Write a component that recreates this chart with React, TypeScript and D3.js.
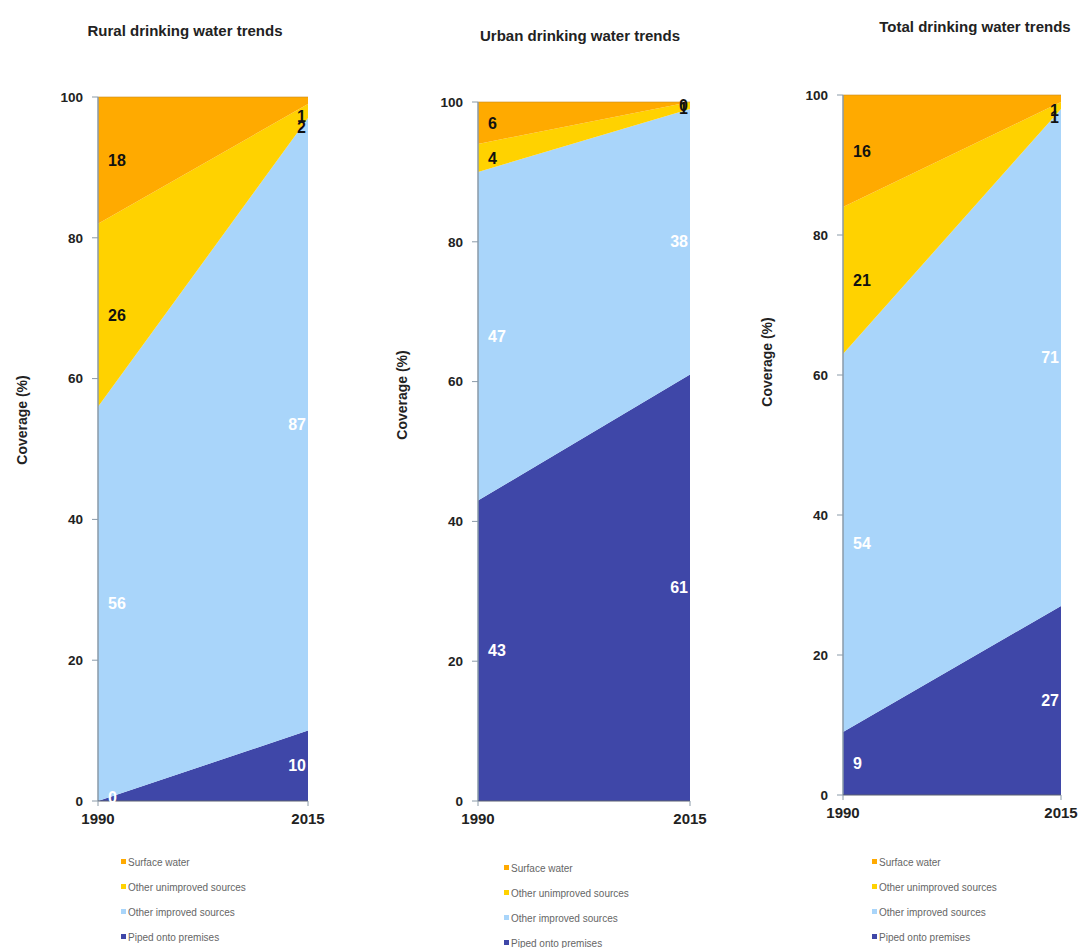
import React from "react";
import * as d3 from "d3";

const years = ["1990", "2015"];
const categories = ["Piped onto premises", "Other improved sources", "Other unimproved sources", "Surface water"];
const legendOrder = ["Surface water", "Other unimproved sources", "Other improved sources", "Piped onto premises"];
const colors: Record<string, string> = {
  "Surface water": "#FFAA00",
  "Other unimproved sources": "#FFD200",
  "Other improved sources": "#A9D5FA",
  "Piped onto premises": "#3F47A8",
};
const labelColors: Record<string, string> = {
  "Surface water": "#111",
  "Other unimproved sources": "#111",
  "Other improved sources": "#fff",
  "Piped onto premises": "#fff",
};

// values per category: [1990, 2015]
const ruralPiped = [0, 10];
const ruralImproved = [56, 87];
const ruralUnimproved = [26, 2];
const ruralSurface = [18, 1];

const urbanPiped = [43, 61];
const urbanImproved = [47, 38];
const urbanUnimproved = [4, 1];
const urbanSurface = [6, 0];

const totalPiped = [9, 27];
const totalImproved = [54, 71];
const totalUnimproved = [21, 1];
const totalSurface = [16, 1];

const yTicks = [0, 20, 40, 60, 80, 100];

const titles = ["Rural drinking water trends", "Urban drinking water trends", "Total drinking water trends"];

const panels = [
  { title: titles[0], series: [ruralPiped, ruralImproved, ruralUnimproved, ruralSurface],
    left: 98, right: 308, top: 97, bottom: 801, titleX: 185, titleY: 36, yTitleY: 420,
    legX: 121, legY: 862, smallShift: 16 },
  { title: titles[1], series: [urbanPiped, urbanImproved, urbanUnimproved, urbanSurface],
    left: 478, right: 690, top: 102, bottom: 801, titleX: 580, titleY: 41, yTitleY: 395,
    legX: 504, legY: 868, smallShift: 3 },
  { title: titles[2], series: [totalPiped, totalImproved, totalUnimproved, totalSurface],
    left: 843, right: 1061, top: 95, bottom: 795, titleX: 975, titleY: 32, yTitleY: 362,
    legX: 872, legY: 862, smallShift: 12 },
];

const FONT = "'Liberation Sans', Arial, Helvetica, sans-serif";

function Panel({ p }: { p: typeof panels[number] }) {
  const x = d3.scalePoint<string>().domain(years).range([p.left, p.right]);
  const y = d3.scaleLinear().domain([0, 100]).range([p.bottom, p.top]);
  const rows = years.map((yr, i) => {
    const o: any = { year: yr };
    categories.forEach((c, k) => (o[c] = p.series[k][i]));
    return o;
  });
  const stacked = d3.stack<any>().keys(categories)(rows);
  const area = d3
    .area<any>()
    .x((d) => x(d.data.year) as number)
    .y0((d) => y(d[0]))
    .y1((d) => y(d[1]));

  return (
    <g>
      <text x={p.titleX} y={p.titleY} textAnchor="middle" fontFamily={FONT} fontWeight="bold" fontSize={15} fill="#222">
        {p.title}
      </text>
      {stacked.map((s) => (
        <path key={s.key} d={area(s as any) || ""} fill={colors[s.key]} />
      ))}
      <line x1={p.left} x2={p.right} y1={p.top} y2={p.top} stroke="#c98a20" strokeWidth={1} opacity={0.6} />
      {/* y axis */}
      <line x1={p.left} x2={p.left} y1={p.top} y2={p.bottom} stroke="#8a9aa8" strokeWidth={1.5} />
      {yTicks.map((t) => (
        <g key={t}>
          <line x1={p.left - 6} x2={p.left} y1={y(t)} y2={y(t)} stroke="#8a9aa8" strokeWidth={1} />
          <text x={p.left - 15} y={y(t)} dy="0.35em" textAnchor="end" fontFamily={FONT} fontWeight="bold" fontSize={13.5} fill="#222">
            {t}
          </text>
        </g>
      ))}
      {/* x axis */}
      <line x1={p.left} x2={p.right} y1={p.bottom} y2={p.bottom} stroke="#5a6070" strokeWidth={1} />
      {years.map((yr) => (
        <g key={yr}>
          <line x1={x(yr)} x2={x(yr)} y1={p.bottom} y2={p.bottom + 5} stroke="#8a9aa8" />
          <text x={x(yr)} y={p.bottom + 23} textAnchor="middle" fontFamily={FONT} fontWeight="bold" fontSize={15} fill="#222">
            {yr}
          </text>
        </g>
      ))}
      <text
        transform={`translate(${p.left - 76},${p.yTitleY}) rotate(-90)`}
        textAnchor="middle"
        dy="0.35em"
        fontFamily={FONT}
        fontWeight="bold"
        fontSize={14}
        fill="#222"
      >
        Coverage (%)
      </text>
      {/* data labels */}
      {stacked.map((s) =>
        s.map((d: any, i: number) => {
          const v = d[1] - d[0];
          const nearTop = v < 3 && d[1] >= 98;
          const mid = y((d[0] + d[1]) / 2) + (nearTop ? p.smallShift : 0);
          const isLeft = i === 0;
          return (
            <text
              key={s.key + i}
              x={isLeft ? p.left + 10 : p.right - 2}
              y={Math.min(mid, p.bottom - 4)}
              dy="0.35em"
              textAnchor={isLeft ? "start" : "end"}
              fontFamily={FONT}
              fontWeight="bold"
              fontSize={16}
              fill={labelColors[s.key]}
            >
              {d.data[s.key]}
            </text>
          );
        })
      )}
      {/* legend */}
      {legendOrder.map((c, i) => (
        <g key={c} transform={`translate(${p.legX},${p.legY + i * 25})`}>
          <rect x={0} y={-3} width={5} height={5} fill={colors[c]} />
          <text x={7} y={0} dy="0.35em" fontFamily={FONT} fontSize={10} fill="#666">
            {c}
          </text>
        </g>
      ))}
    </g>
  );
}

export default function App() {
  return (
    <svg
      width={1085}
      height={948}
      style={{ position: "absolute", left: 0, top: 0, background: "#fff" }}
    >
      <rect width={1085} height={948} fill="#fff" />
      {panels.map((p) => (
        <Panel key={p.title} p={p} />
      ))}
    </svg>
  );
}
